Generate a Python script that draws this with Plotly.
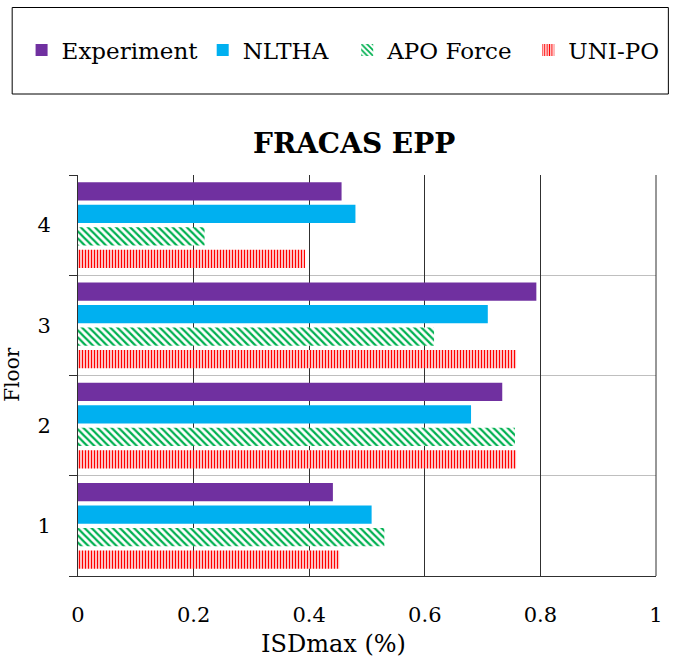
import plotly.graph_objects as go

floors = [1, 2, 3, 4]
floor_labels = ["1", "2", "3", "4"]
experiment = [0.441, 0.734, 0.793, 0.456]
nltha = [0.508, 0.680, 0.709, 0.480]
apo_force = [0.530, 0.756, 0.616, 0.219]
uni_po = [0.452, 0.758, 0.758, 0.393]
x_ticks = [0, 0.2, 0.4, 0.6, 0.8, 1]

FONT = "DejaVu Serif"

fig = go.Figure()
fig.add_trace(go.Bar(
    y=floors, x=uni_po, name="UNI-PO", orientation="h", legend="legend4",
    marker=dict(color="white", line=dict(width=0),
                pattern=dict(shape="|", fgcolor="#FF0000", bgcolor="white",
                             size=3, solidity=0.5, fillmode="replace")),
))
fig.add_trace(go.Bar(
    y=floors, x=apo_force, name="APO Force", orientation="h", legend="legend3",
    marker=dict(color="white", line=dict(width=0),
                pattern=dict(shape="\\", fgcolor="#00B050", bgcolor="white",
                             size=5, solidity=0.45, fillmode="replace")),
))
fig.add_trace(go.Bar(
    y=floors, x=nltha, name="NLTHA", orientation="h", legend="legend2",
    marker=dict(color="#00B0F0", line=dict(width=0)),
))
fig.add_trace(go.Bar(
    y=floors, x=experiment, name="Experiment", orientation="h", legend="legend",
    marker=dict(color="#7030A0", line=dict(width=0)),
))

W, H = 676, 662
L, R, T, B = 78, 14, 175, 86
pw, ph = W - L - R, H - T - B

def px_x(p):
    return (p - L) / pw

def px_y(p):
    return (H - B - p) / ph

def leg(x0):
    return dict(
        orientation="h", x=px_x(x0), xanchor="left", y=px_y(50), yanchor="middle",
        font=dict(family=FONT, size=23, color="#000000"),
        bgcolor="rgba(0,0,0,0)", borderwidth=0,
    )

fig.update_layout(
    width=W, height=H,
    margin=dict(l=L, r=R, t=T, b=B),
    paper_bgcolor="white", plot_bgcolor="white",
    barmode="group", bargap=0.1, bargroupgap=0.19,
    font=dict(family=FONT, color="#000000", size=21),
    showlegend=True,
    legend=leg(21), legend2=leg(204), legend3=leg(350), legend4=leg(533),
    xaxis=dict(
        range=[0, 1], tickvals=x_ticks, ticktext=[f"{v:g}" for v in x_ticks],
        showgrid=True, gridcolor="#303030", gridwidth=1,
        showline=True, linecolor="#303030", linewidth=1,
        ticks="", ticklabelstandoff=20,
        tickfont=dict(family=FONT, size=21, color="#000000"),
        zeroline=False,
    ),
    yaxis=dict(
        range=[0.5, 4.5], tickvals=floors, ticktext=floor_labels,
        showgrid=False, showline=True, linecolor="#303030", linewidth=1,
        ticks="", ticklabelstandoff=22,
        tickfont=dict(family=FONT, size=21, color="#000000"),
        zeroline=False,
        minor=dict(tickvals=[0.5, 1.5, 2.5, 3.5, 4.5], showgrid=True,
                   gridcolor="#BFBFBF", gridwidth=1,
                   ticks="outside", ticklen=8, tickcolor="#303030", tickwidth=1),
    ),
    shapes=[
        dict(type="rect", xref="paper", yref="paper",
             x0=px_x(11.5), x1=px_x(674.5), y0=px_y(94), y1=px_y(7.5),
             line=dict(color="#000000", width=1), fillcolor="rgba(0,0,0,0)"),
        dict(type="line", xref="paper", yref="paper", x0=1, x1=1, y0=0, y1=1,
             line=dict(color="#303030", width=1), layer="above"),
    ],
    annotations=[
        dict(text="<b>FRACAS EPP</b>", xref="paper", yref="paper",
             x=px_x(356.5), y=px_y(143), xanchor="center", yanchor="middle",
             showarrow=False, font=dict(family=FONT, size=28, color="#000000")),
        dict(text="ISDmax (%)", xref="paper", yref="paper",
             x=px_x(336), y=px_y(644), xanchor="center", yanchor="middle",
             showarrow=False, font=dict(family=FONT, size=24, color="#000000")),
        dict(text="Floor", xref="paper", yref="paper", textangle=-90,
             x=px_x(11), y=px_y(375), xanchor="center", yanchor="middle",
             showarrow=False, font=dict(family=FONT, size=20, color="#000000")),
    ],
)

fig.write_html("out.html", config={"displayModeBar": False},
               post_script="document.body.style.margin='0';document.body.style.overflow='hidden';")
